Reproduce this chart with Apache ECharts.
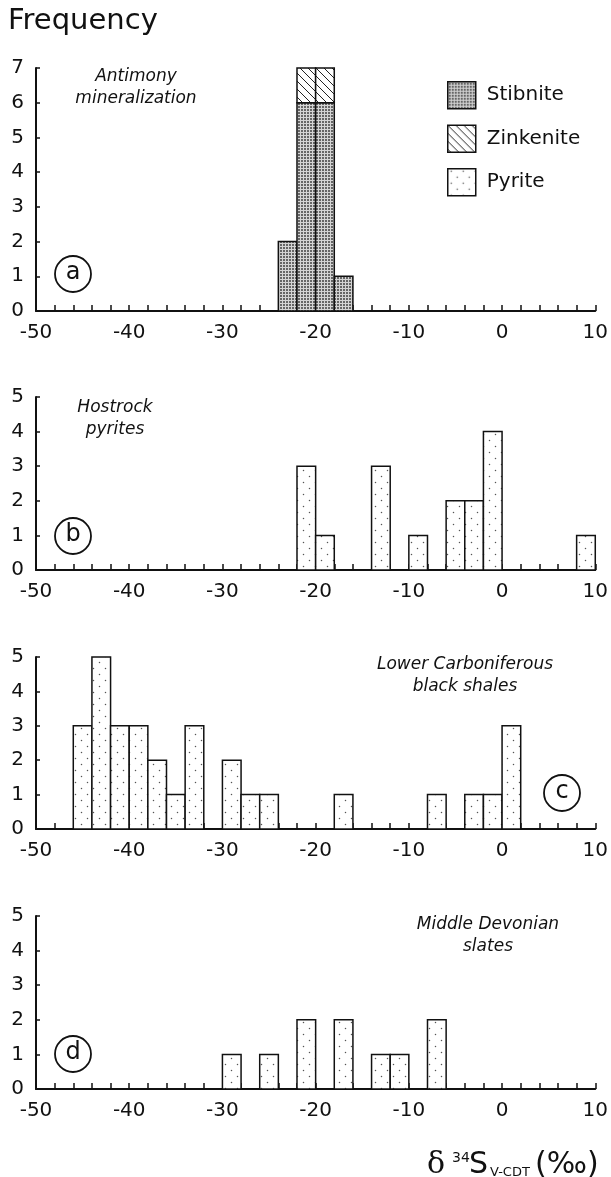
<!DOCTYPE html>
<html>
<head>
<meta charset="utf-8">
<script src="https://cdn.jsdelivr.net/npm/echarts@6/dist/echarts.min.js"></script>
<style>
  html, body { margin: 0; padding: 0; background: #fff; }
  #chart { width: 611px; height: 1177px; }
</style>
</head>
<body>
<div id="chart"></div>
<script>
// bin width of the histograms (per mil)
var BIN = 2

// (a) antimony mineralization
var binsA = [-24, -22, -20, -18]
var stibniteA = [2, 6, 6, 1]
var zinkeniteA = [0, 1, 1, 0]

// (b) hostrock pyrites
var binsB = [-22, -20, -14, -10, -6, -4, -2, 8]
var pyriteB = [3, 1, 3, 1, 2, 2, 4, 1]

// (c) lower carboniferous black shales
var binsC = [-46, -44, -42, -40, -38, -36, -34, -30, -28, -26, -18, -8, -4, -2, 0]
var pyriteC = [3, 5, 3, 3, 2, 1, 3, 2, 1, 1, 1, 1, 1, 1, 3]

// (d) middle devonian slates
var binsD = [-30, -26, -22, -18, -14, -12, -8]
var pyriteD = [1, 1, 2, 2, 1, 1, 2]

var xTicks = [-50, -40, -30, -20, -10, 0, 10]
var yMaxA = 7
var yMax = 5

var FONT = '"DejaVu Sans", sans-serif'

function makePattern(kind) {
  var c = document.createElement('canvas')
  var ctx
  if (kind === 'stibnite') {
    c.width = 3; c.height = 3
    ctx = c.getContext('2d')
    ctx.fillStyle = '#666'
    ctx.fillRect(0, 0, 3, 3)
    ctx.fillStyle = '#d4d4d4'
    ctx.fillRect(0, 0, 3, 1)
    ctx.fillRect(0, 0, 1, 3)
  } else if (kind === 'zinkenite') {
    c.width = 8; c.height = 8
    ctx = c.getContext('2d')
    ctx.fillStyle = '#fff'
    ctx.fillRect(0, 0, 8, 8)
    ctx.strokeStyle = '#222'
    ctx.lineWidth = 1
    ;[-8, 0, 8].forEach(function(k) {
      ctx.beginPath()
      ctx.moveTo(k, 0)
      ctx.lineTo(k + 8, 8)
      ctx.stroke()
    })
  } else {
    c.width = 12; c.height = 12
    ctx = c.getContext('2d')
    ctx.fillStyle = '#fff'
    ctx.fillRect(0, 0, 12, 12)
    ctx.fillStyle = '#555'
    ctx.beginPath(); ctx.arc(3.5, 2.5, 0.75, 0, Math.PI * 2); ctx.fill()
    ctx.beginPath(); ctx.arc(9.5, 8.5, 0.75, 0, Math.PI * 2); ctx.fill()
  }
  return { image: c, repeat: 'repeat' }
}

var patStib = makePattern('stibnite')
var patZink = makePattern('zinkenite')
var patPyr = makePattern('pyrite')

function toData(bins, counts, bases) {
  var out = []
  bins.forEach(function(b, i) {
    if (counts[i] > 0) out.push([b, counts[i], bases ? bases[i] : 0])
  })
  return out
}

function histSeries(name, idx, data, pattern) {
  return {
    name: name,
    type: 'custom',
    xAxisIndex: idx,
    yAxisIndex: idx,
    itemStyle: { color: pattern },
    encode: { x: 0, y: 1 },
    data: data,
    renderItem: function(params, api) {
      var x0 = api.value(0)
      var n = api.value(1)
      var base = api.value(2)
      var p0 = api.coord([x0, base])
      var p1 = api.coord([x0 + BIN, base + n])
      return {
        type: 'rect',
        shape: { x: p0[0], y: p1[1], width: p1[0] - p0[0], height: p0[1] - p1[1] },
        style: { fill: pattern, stroke: '#111', lineWidth: 1.5 }
      }
    }
  }
}

var grids = [
  { top: 68, height: 243 },
  { top: 397, height: 173 },
  { top: 657, height: 172 },
  { top: 916, height: 173 }
].map(function(g) {
  return { left: 36, right: 12, top: g.top, height: g.height }
})

var xAxes = grids.map(function(g, i) {
  return {
    type: 'value',
    gridIndex: i,
    min: xTicks[0],
    max: xTicks[xTicks.length - 1],
    interval: BIN,
    splitLine: { show: false },
    axisLine: { lineStyle: { color: '#111', width: 2 } },
    axisTick: { inside: true, length: 6, lineStyle: { color: '#111', width: 1.5 } },
    axisLabel: {
      margin: 12,
      color: '#111',
      fontFamily: FONT,
      fontSize: 20,
      formatter: function(v) { return xTicks.indexOf(v) >= 0 ? String(v) : '' }
    }
  }
})

var yAxes = grids.map(function(g, i) {
  return {
    type: 'value',
    gridIndex: i,
    min: 0,
    max: i === 0 ? yMaxA : yMax,
    interval: 1,
    splitLine: { show: false },
    axisLine: { show: true, onZero: false, lineStyle: { color: '#111', width: 2 } },
    axisTick: { show: true, inside: true, length: 4, lineStyle: { color: '#111', width: 1.5 } },
    axisLabel: { margin: 12, color: '#111', fontFamily: FONT, fontSize: 20 }
  }
})

function note(text, x, y) {
  return {
    type: 'text',
    x: x, y: y,
    style: {
      text: text,
      align: 'center',
      verticalAlign: 'middle',
      fill: '#111',
      font: 'italic 17px ' + FONT,
      lineHeight: 22
    }
  }
}

function circled(letter, x, y) {
  return {
    type: 'group',
    x: x, y: y,
    children: [
      { type: 'circle', shape: { cx: 0, cy: 0, r: 18 }, style: { fill: '#fff', stroke: '#111', lineWidth: 1.8 } },
      { type: 'text', x: 0, y: -1, style: { text: letter, align: 'center', verticalAlign: 'middle', fill: '#111', font: '24px ' + FONT } }
    ]
  }
}

var chart = echarts.init(document.getElementById('chart'))
chart.setOption({
  animation: false,
  backgroundColor: '#fff',
  grid: grids,
  xAxis: xAxes,
  yAxis: yAxes,
  legend: {
    orient: 'vertical',
    left: 442,
    top: 76,
    itemWidth: 28,
    itemHeight: 27,
    itemGap: 15,
    icon: 'rect',
    selectedMode: false,
    textStyle: { color: '#111', fontFamily: FONT, fontSize: 20, padding: [0, 0, 0, 6] },
    data: [
      { name: 'Stibnite', itemStyle: { color: patStib, borderColor: '#111', borderWidth: 1.5 } },
      { name: 'Zinkenite', itemStyle: { color: patZink, borderColor: '#111', borderWidth: 1.5 } },
      { name: 'Pyrite', itemStyle: { color: patPyr, borderColor: '#111', borderWidth: 1.5 } }
    ]
  },
  graphic: [
    { type: 'text', x: 8, y: 21, style: { text: 'Frequency', verticalAlign: 'middle', fill: '#111', font: '29px ' + FONT } },
    note('Antimony\nmineralization', 136, 88),
    note('Hostrock\npyrites', 115, 419),
    note('Lower Carboniferous\nblack shales', 465, 676),
    note('Middle Devonian\nslates', 488, 936),
    circled('a', 73, 274),
    circled('b', 73, 536),
    circled('c', 562, 793),
    circled('d', 73, 1054),
    // x-axis title: δ34S V-CDT (‰)
    { type: 'text', x: 427, y: 1165, style: { text: 'δ', verticalAlign: 'middle', fill: '#111', font: '30px "DejaVu Serif", serif' } },
    { type: 'text', x: 452, y: 1158, style: { text: '34', verticalAlign: 'middle', fill: '#111', font: '14px ' + FONT } },
    { type: 'text', x: 469, y: 1165, style: { text: 'S', verticalAlign: 'middle', fill: '#111', font: '30px ' + FONT } },
    { type: 'text', x: 490, y: 1173, style: { text: 'V-CDT', verticalAlign: 'middle', fill: '#111', font: '13px ' + FONT } },
    { type: 'text', x: 535, y: 1165, style: { text: '(‰)', verticalAlign: 'middle', fill: '#111', font: '30px ' + FONT } }
  ],
  series: [
    histSeries('Stibnite', 0, toData(binsA, stibniteA), patStib),
    histSeries('Zinkenite', 0, toData(binsA, zinkeniteA, stibniteA), patZink),
    histSeries('Pyrite', 1, toData(binsB, pyriteB), patPyr),
    histSeries('Pyrite', 2, toData(binsC, pyriteC), patPyr),
    histSeries('Pyrite', 3, toData(binsD, pyriteD), patPyr)
  ]
})
</script>
</body>
</html>
